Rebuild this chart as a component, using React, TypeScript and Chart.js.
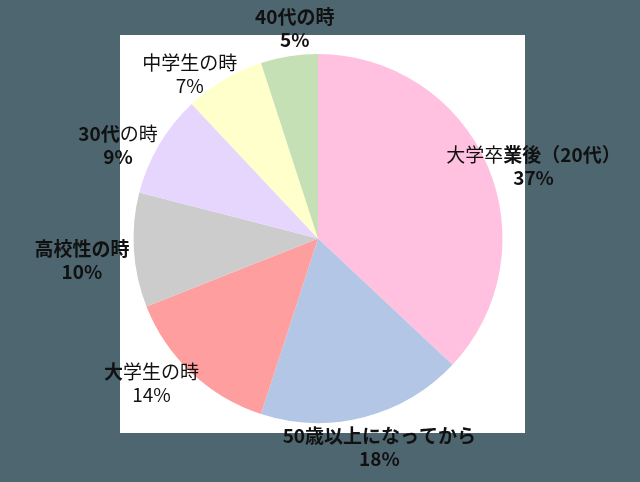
import { useEffect, useRef } from "react";
import { Chart, PieController, ArcElement } from "chart.js";

Chart.register(PieController, ArcElement);

const categories = ["大学卒業後（20代）", "50歳以上になってから", "大学生の時", "高校性の時", "30代の時", "中学生の時", "40代の時"];
const shares = [37, 18, 14, 10, 9, 7, 5];

const sliceColors = ["#ffc1df", "#b3c6e6", "#ff9e9e", "#cccccc", "#e6d6fd", "#ffffcb", "#c5e0b4"];

// bold character range [from, to) of the name line, and whether the % line is bold
const nameBold: [number, number][] = [[3, 10], [0, 11], [0, 1], [0, 5], [0, 3], [0, 0], [0, 5]];
const valueBold = [true, true, false, true, true, false, true];
// small manual label shifts, like labels dragged in the spreadsheet
const labelNudge: [number, number][] = [[15, 15], [7, -3], [-17, -14], [-18, 8], [-12, 18], [-17, 24], [11, 6]];

const FONT = '"Noto Sans CJK JP", "Noto Sans", sans-serif';

function drawMixed(ctx: CanvasRenderingContext2D, text: string, cx: number, cy: number, from: number, to: number) {
  const parts = [
    { t: text.slice(0, from), b: false },
    { t: text.slice(from, to), b: true },
    { t: text.slice(to), b: false },
  ].filter((p) => p.t.length > 0);
  const font = (b: boolean) => `${b ? "bold " : ""}19px ${FONT}`;
  let total = 0;
  for (const p of parts) {
    ctx.font = font(p.b);
    total += ctx.measureText(p.t).width;
  }
  let x = cx - total / 2;
  for (const p of parts) {
    ctx.font = font(p.b);
    ctx.fillText(p.t, x, cy);
    x += ctx.measureText(p.t).width;
  }
}

const outsideLabels = {
  id: "outsideLabels",
  afterDatasetsDraw(chart: Chart) {
    const ctx = chart.ctx;
    const meta = chart.getDatasetMeta(0);
    ctx.save();
    ctx.fillStyle = "#111111";
    ctx.textAlign = "left";
    ctx.textBaseline = "middle";
    meta.data.forEach((el, i) => {
      const { x, y, startAngle, endAngle, outerRadius } = (el as any).getProps(
        ["x", "y", "startAngle", "endAngle", "outerRadius"],
        true
      );
      const mid = (startAngle + endAngle) / 2;
      const r = outerRadius + 34;
      const px = x + Math.cos(mid) * r + labelNudge[i][0];
      const py = y + Math.sin(mid) * r + labelNudge[i][1];
      drawMixed(ctx, categories[i], px, py - 11.5, nameBold[i][0], nameBold[i][1]);
      const pct = `${shares[i]}%`;
      drawMixed(ctx, pct, px, py + 11.5, 0, valueBold[i] ? pct.length : 0);
    });
    ctx.restore();
  },
};

export default function App() {
  const canvasRef = useRef<HTMLCanvasElement>(null);
  const chartRef = useRef<Chart | null>(null);

  useEffect(() => {
    if (!canvasRef.current) return;
    chartRef.current?.destroy();

    chartRef.current = new Chart(canvasRef.current, {
      type: "pie",
      data: {
        labels: categories,
        datasets: [{
          data: shares,
          backgroundColor: sliceColors,
          borderWidth: 0,
        }],
      },
      options: {
        responsive: false,
        animation: false,
        events: [],
        layout: { padding: { left: 133, right: 137, top: 54, bottom: 59 } },
        plugins: {
          legend: { display: false },
          tooltip: { enabled: false },
        },
      },
      plugins: [outsideLabels],
    });

    return () => { chartRef.current?.destroy(); };
  }, []);

  return (
    <div style={{ position: "fixed", left: 0, top: 0, width: 640, height: 482, background: "#4e6670" }}>
      <div style={{ position: "absolute", left: 120, top: 35, width: 405, height: 398, background: "#ffffff" }} />
      <canvas ref={canvasRef} width={640} height={482} style={{ position: "absolute", left: 0, top: 0 }} />
    </div>
  );
}
